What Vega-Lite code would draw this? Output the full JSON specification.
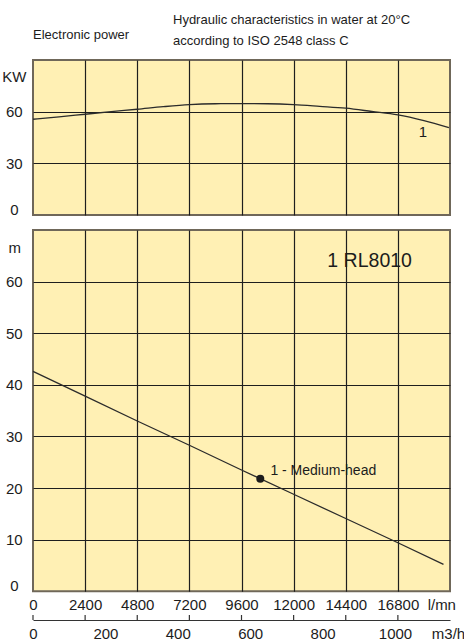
{
  "$schema": "https://vega.github.io/schema/vega-lite/v6.json",
  "background": "white",
  "padding": {"left": 0, "top": 14, "right": 0, "bottom": 0},
  "autosize": {"type": "pad"},
  "bounds": "flush",
  "spacing": 15,
  "title": {
    "text": ["Hydraulic characteristics in water at 20°C", "according to ISO 2548 class C"],
    "anchor": "start",
    "frame": "group",
    "dx": 140,
    "dy": 33.1,
    "offset": 0,
    "baseline": "bottom",
    "lineHeight": 21,
    "fontSize": 13,
    "fontWeight": "normal"
  },
  "config": {
    "font": "Liberation Sans",
    "view": {"stroke": "#6f6759", "strokeWidth": 2, "fill": "#FFF0B4"},
    "axis": {
      "domain": false,
      "ticks": false,
      "tickSize": 0,
      "labelFontSize": 15,
      "labelColor": "#1c1c1c",
      "labelFont": "Liberation Sans",
      "gridColor": "#1e1e1e",
      "gridWidth": 1.2,
      "labelFlush": false,
      "labelOverlap": false,
      "format": "d",
      "titleFontSize": 15,
      "titleFontWeight": "normal",
      "titleColor": "#1c1c1c",
      "titleFont": "Liberation Sans"
    },
    "title": {"font": "Liberation Sans", "fontWeight": "normal", "fontSize": 13, "color": "#1c1c1c"},
    "text": {"font": "Liberation Sans", "color": "#1c1c1c"}
  },
  "vconcat": [
    {
      "width": 417,
      "height": 155,
      "title": {"text": "Electronic power", "anchor": "start", "frame": "group", "offset": 4.7, "baseline": "bottom", "fontSize": 13, "fontWeight": "normal"},
      "layer": [
        {
          "data": {"values": [
            {"q": 0, "kw": 55.6}, {"q": 1200, "kw": 57.0}, {"q": 2400, "kw": 58.5}, {"q": 3600, "kw": 60.0},
            {"q": 4800, "kw": 61.4}, {"q": 6000, "kw": 62.9}, {"q": 7200, "kw": 64.1}, {"q": 8400, "kw": 64.6},
            {"q": 9600, "kw": 64.7}, {"q": 10800, "kw": 64.6}, {"q": 12000, "kw": 64.1}, {"q": 13200, "kw": 63.1},
            {"q": 14400, "kw": 62.0}, {"q": 15600, "kw": 60.1}, {"q": 16800, "kw": 58.1}, {"q": 18000, "kw": 54.8},
            {"q": 19150, "kw": 50.8}
          ]},
          "mark": {"type": "line", "interpolate": "monotone", "color": "#2b2b2b", "strokeWidth": 1.3},
          "encoding": {
            "x": {"field": "q", "type": "quantitative", "scale": {"domain": [0, 19200], "nice": false},
              "axis": {"values": [2400, 4800, 7200, 9600, 12000, 14400, 16800], "grid": true, "labels": false, "title": null}},
            "y": {"field": "kw", "type": "quantitative", "scale": {"domain": [0, 90], "nice": false},
              "axis": {
                "values": [0, 30, 60],
                "title": "KW", "titleAngle": 0, "titleX": -19.2, "titleY": 16, "titleAlign": "center", "titleBaseline": "middle",
                "labelAlign": "center", "labelPadding": 19.2,
                "labelOffset": {"condition": {"test": "datum.value === 0", "value": -5.5}, "value": 0},
                "gridOpacity": {"condition": {"test": "datum.value === 0", "value": 0}, "value": 1}
              }}
          }
        },
        {
          "data": {"values": [{"q": 17950, "kw": 48, "label": "1"}]},
          "mark": {"type": "text", "fontSize": 15, "align": "center", "baseline": "middle"},
          "encoding": {
            "x": {"field": "q", "type": "quantitative"},
            "y": {"field": "kw", "type": "quantitative"},
            "text": {"field": "label"}
          }
        }
      ]
    },
    {
      "width": 417,
      "height": 361.3,
      "layer": [
        {
          "data": {"values": [
            {"q": 0, "m": 42.6}, {"q": 2400, "m": 37.8}, {"q": 4800, "m": 33.0}, {"q": 7200, "m": 28.3},
            {"q": 9600, "m": 23.5}, {"q": 12000, "m": 18.8}, {"q": 14400, "m": 14.1}, {"q": 16800, "m": 9.4},
            {"q": 18900, "m": 5.2}
          ]},
          "mark": {"type": "line", "color": "#2b2b2b", "strokeWidth": 1.3},
          "encoding": {
            "x": {"field": "q", "type": "quantitative", "scale": {"domain": [0, 19200], "nice": false},
              "axis": {
                "values": [0, 2400, 4800, 7200, 9600, 12000, 14400, 16800],
                "grid": true, "labels": true, "labelPadding": 6.5,
                "gridOpacity": {"condition": {"test": "datum.value === 0", "value": 0}, "value": 1},
                "title": "l/mn", "titleX": 408.3, "titleY": 6.5, "titleAlign": "center", "titleBaseline": "top"
              }},
            "y": {"field": "m", "type": "quantitative", "scale": {"domain": [0, 70], "nice": false},
              "axis": {
                "values": [0, 10, 20, 30, 40, 50, 60],
                "title": "m", "titleAngle": 0, "titleX": -18.7, "titleY": 17, "titleAlign": "center", "titleBaseline": "middle",
                "labelAlign": "center", "labelPadding": 19.2,
                "labelOffset": {"condition": {"test": "datum.value === 0", "value": -5.5}, "value": 0},
                "gridOpacity": {"condition": {"test": "datum.value === 0", "value": 0}, "value": 1}
              }}
          }
        },
        {
          "data": {"values": [{"q": 10465, "m": 21.8}]},
          "mark": {"type": "point", "filled": true, "size": 64, "color": "#1c1c1c", "opacity": 1},
          "encoding": {
            "x": {"field": "q", "type": "quantitative"},
            "y": {"field": "m", "type": "quantitative"}
          }
        },
        {
          "data": {"values": [
            {"q": 10930, "m": 23.4, "label": "1 - Medium-head"}
          ]},
          "mark": {"type": "text", "fontSize": 14, "align": "left", "baseline": "middle"},
          "encoding": {
            "x": {"field": "q", "type": "quantitative"},
            "y": {"field": "m", "type": "quantitative"},
            "text": {"field": "label"}
          }
        },
        {
          "data": {"values": [{"q": 15500, "m": 63.9, "label": "1 RL8010"}]},
          "mark": {"type": "text", "fontSize": 19.5, "align": "center", "baseline": "middle"},
          "encoding": {
            "x": {"field": "q", "type": "quantitative"},
            "y": {"field": "m", "type": "quantitative"},
            "text": {"field": "label"}
          }
        }
      ]
    },
    {
      "width": 417,
      "height": 13,
      "view": {"stroke": null, "fill": null},
      "data": {"values": [
        {"m3h": 0}, {"m3h": 144}, {"m3h": 288}, {"m3h": 432}, {"m3h": 576}, {"m3h": 720}, {"m3h": 864}, {"m3h": 1008}
      ]},
      "mark": {"type": "tick", "orient": "vertical", "size": 5, "thickness": 1.2, "color": "#333333", "opacity": 1, "yOffset": 4},
      "encoding": {
        "x": {"field": "m3h", "type": "quantitative", "scale": {"domain": [0, 1152], "nice": false},
          "axis": {
            "values": [0, 200, 400, 600, 800, 1000],
            "domain": true, "domainColor": "#333333", "domainWidth": 1.2,
            "grid": false, "labelPadding": 6.5,
            "title": "m3/h", "titleX": 415, "titleY": 6.5, "titleAlign": "center", "titleBaseline": "top"
          }}
      }
    }
  ]
}
